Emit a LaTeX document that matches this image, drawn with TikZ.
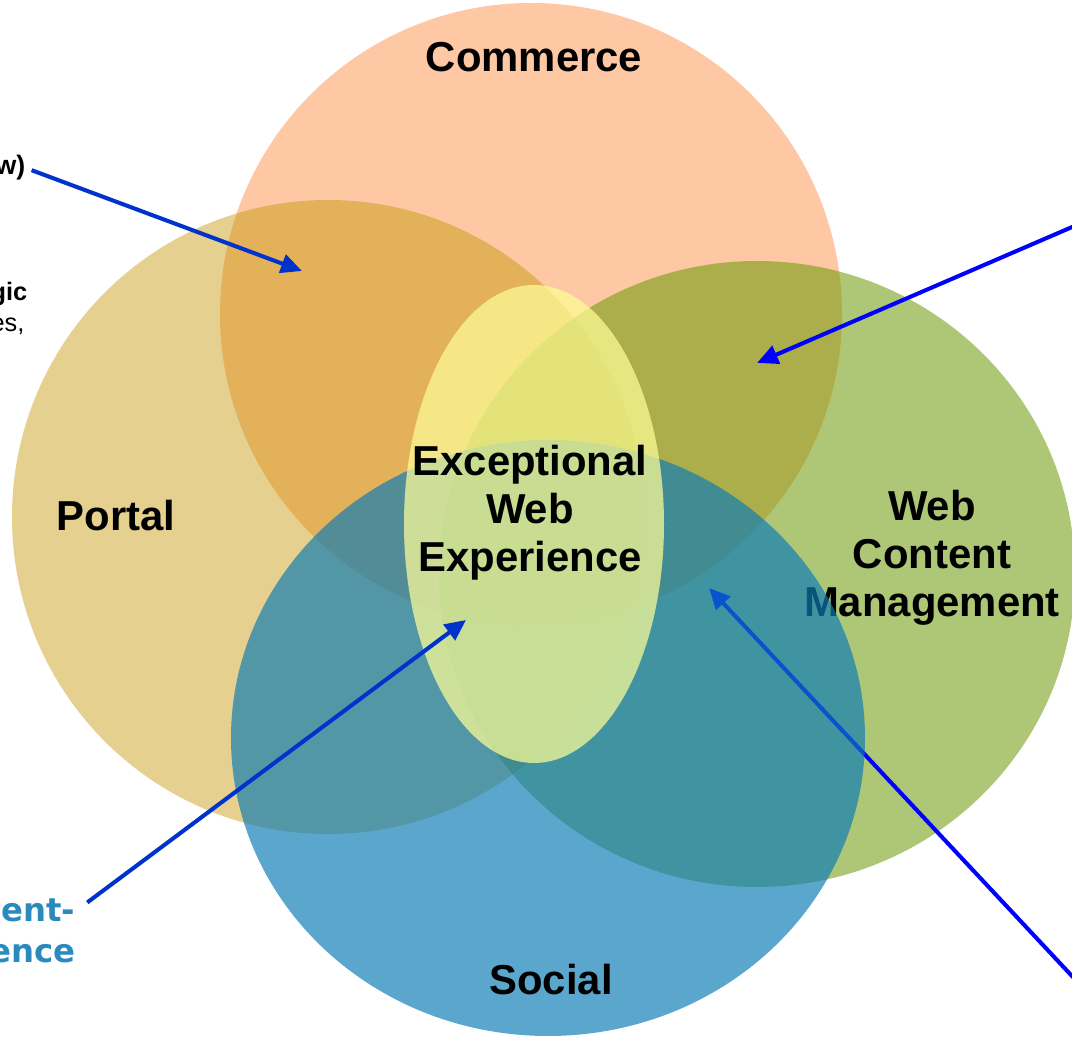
\documentclass[tikz,border=0pt]{standalone}
\usepackage{fontspec}
\setmainfont{Liberation Sans}
\newfontfamily\wideface{DejaVu Sans}
\usepackage{tikz}
\usetikzlibrary{arrows.meta}
\definecolor{commc}{HTML}{FDC8A3}
\definecolor{portc}{HTML}{C69400}
\definecolor{wcmc}{HTML}{6A9906}
\definecolor{socc}{HTML}{0E7CB4}
\definecolor{expc}{HTML}{FEFD97}
\definecolor{arc}{HTML}{0033CC}
\definecolor{arb}{HTML}{0000FF}
\definecolor{txtb}{HTML}{2A8ABE}
\tikzset{
  ar/.style={-{Triangle[length=2.1mm,width=1.9mm]},line width=1.15pt},
  lbl/.style={font=\fontsize{11.9}{13.7}\selectfont\bfseries,align=center,inner sep=0pt},
  side/.style={font=\fontsize{7.2}{8.6}\selectfont,inner sep=0pt,anchor=base east},
  bside/.style={font=\wideface\fontsize{9.2}{11}\selectfont\bfseries,text=txtb,inner sep=0pt,anchor=base east}
}
\begin{document}
\begin{tikzpicture}[x=0.01cm,y=-0.01cm]
\useasboundingbox (0,0) rectangle (1072,1037);
\clip (0,0) rectangle (1072,1037);
\fill[commc] (531,314) circle [radius=311];
\fill[portc,fill opacity=.44] (328,517) ellipse [x radius=316,y radius=317];
\fill[wcmc,fill opacity=.55] (757,574) ellipse [x radius=318,y radius=313];
\node[lbl] (wcm) at (932,558) {Web\\Content\\Management};
\coordinate (tipsoc) at (709,588);
\coordinate (farsoc) at (1100,1006);
\draw[ar,arb] (farsoc) -- (tipsoc);
\fill[socc,fill opacity=.68] (548,738) ellipse [x radius=317,y radius=298];
\fill[expc,fill opacity=.72] (534,524) ellipse [x radius=130,y radius=239];
\node[lbl,anchor=base] (commerce) at (534,72) {Commerce};
\node[lbl,anchor=base] (portal) at (116,531) {Portal};
\node[lbl,anchor=base] (social) at (551,995) {Social};
\node[lbl] (exp) at (530,513) {Exceptional\\Web\\Experience};
\node[side,font=\fontsize{7.6}{9}\selectfont\bfseries] (lblview) at (26,175) {w)};
\node[side,font=\fontsize{7.2}{8.6}\selectfont\bfseries] (lblgic) at (28,301) {gic};
\node[side] (lbles) at (25,332) {es,};
\node[bside] (lblent) at (76,922) {ent-};
\node[bside] (lblence) at (76,963) {ence};
\coordinate (tipcp) at (302,271);
\coordinate (tipwc) at (757,363);
\coordinate (farwcm) at (1100,215);
\coordinate (tipexp) at (466,620);
\draw[ar,arc,shorten <=1.7pt] (lblview.east) -- (tipcp);
\draw[ar,arb] (farwcm) -- (tipwc);
\draw[ar,arc,shorten <=4pt] (lblent.east) -- (tipexp);
\end{tikzpicture}
\end{document}
